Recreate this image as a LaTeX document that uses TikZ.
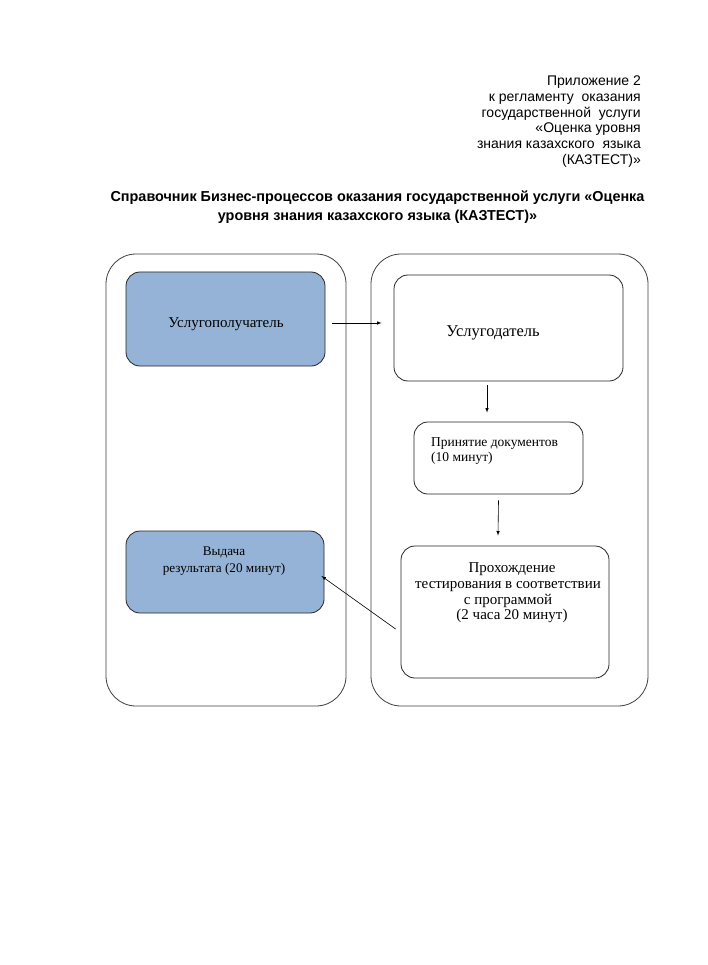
\documentclass[tikz,border=0pt]{standalone}
\usepackage{fontspec}
\setmainfont{Liberation Serif}
\newfontfamily\arialfont{Liberation Sans}
\usetikzlibrary{arrows,positioning}
\definecolor{laneblue}{RGB}{149,179,215}

\begin{document}
\begin{tikzpicture}[
    x=1pt, y=-1pt,
    every node/.style={font=\fontsize{13}{17}\selectfont, inner sep=0pt},
    lane/.style={draw=black!75, rounded corners=30pt, line width=0.8pt},
    procbox/.style={draw=black!85, rounded corners=14pt, line width=0.8pt},
    headtext/.style={font=\arialfont\fontsize{14}{15.8}\selectfont, align=right},
    flow/.style={-latex, line width=0.6pt},
]
    \useasboundingbox[fill=white] (0,0) rectangle (707,965);

    % header
    \node[headtext, anchor=north east] (appendix) at (641,75.5) {Приложение 2\\
        к регламенту\ \ оказания\\
        государственной\ \ услуги\hspace{5pt}\\
        «Оценка уровня\\
        знания казахского\ \ языка\\
        (КАЗТЕСТ)»};
    \node[font=\arialfont\bfseries\fontsize{14.4}{19}\selectfont, align=center] (title) at (377.5,207)
        {Справочник Бизнес-процессов оказания государственной услуги «Оценка\\
         уровня знания казахского языка (КАЗТЕСТ)»};

    % lanes
    \draw[lane] (106,254) rectangle (346,706);
    \draw[lane] (371,254) rectangle (648,706);

    % boxes
    \node[procbox, fill=laneblue, minimum width=199, minimum height=94] (polu) at (225.5,319) {};
    \node (polutext) at (226,324) {\fontsize{15}{17}\selectfont Услугополучатель};
    \node[procbox, minimum width=229, minimum height=106] (dat) at (508.5,328) {};
    \node (dattext) at (493,333) {\fontsize{16.5}{18}\selectfont Услугодатель};
    \node[procbox, minimum width=169, minimum height=72] (prin) at (498.5,458) {};
    \node[anchor=north west, align=left, font=\fontsize{13.5}{14.5}\selectfont] (printext) at (431,437.5)
        {Принятие документов\\(10 минут)};
    \node[procbox, minimum width=208, minimum height=132] (test) at (505,612) {};
    \node[align=center, font=\fontsize{15}{15.7}\selectfont] (testtext) at (508,593)
        {\hspace*{8pt}Прохождение\\тестирования в соответствии\\с программой\hspace*{6pt}\\\hspace*{8pt}(2 часа 20 минут)};
    \node[procbox, fill=laneblue, minimum width=198, minimum height=82] (vyd) at (225,572) {};
    \node[align=center, font=\fontsize{13.2}{17}\selectfont] (vydtext) at (224,561) {Выдача\\результата (20 минут)};

    % arrows
    \draw[flow] ([shift={(7pt,-4pt)}]polu.east) -- ([shift={(-12pt,5pt)}]dat.west);
    \draw[flow] ([shift={(-21.5pt,-4pt)}]dat.south) -- ([shift={(-11.5pt,9pt)}]prin.north);
    \draw[flow] ([yshift=-6pt]prin.south) -- ([shift={(-7pt,10pt)}]test.north);
    \draw[flow] ([shift={(-5pt,-17pt)}]test.west) -- ([shift={(-3pt,-4pt)}]vyd.east);

\end{tikzpicture}
\end{document}
